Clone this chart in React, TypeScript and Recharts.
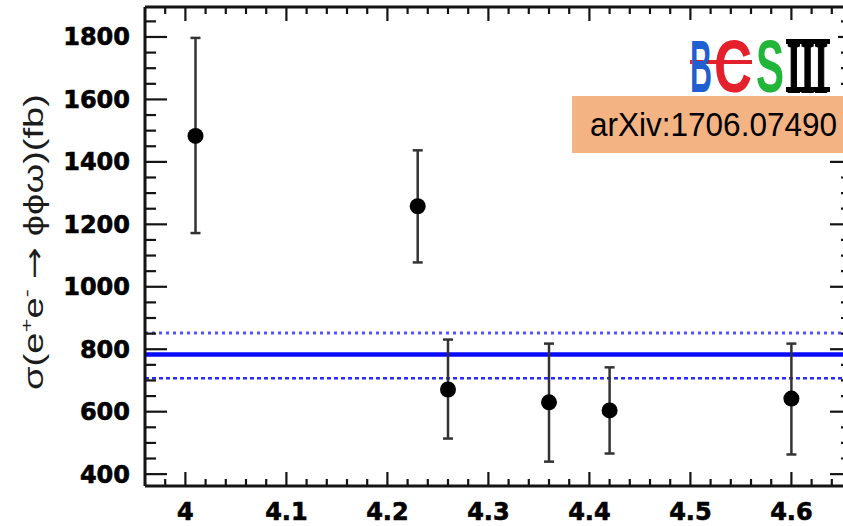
import { ComposedChart, Scatter, ErrorBar, XAxis, YAxis, ReferenceLine } from "recharts";

// centre-of-mass energies (GeV) and measured cross sections (fb)
const energy = [4.01, 4.23, 4.26, 4.36, 4.42, 4.6];
const sigma = [1483, 1258, 671, 630, 604, 642];
const sigmaUp = [314, 179, 160, 188, 138, 176];
const sigmaDown = [311, 180, 157, 190, 138, 179];

// constant fit and its band
const fitValue = 783;
const fitUpper = 852;
const fitLower = 707;

const xMajorLabels = ["4", "4.1", "4.2", "4.3", "4.4", "4.5", "4.6"];
const yMajorLabels = ["400", "600", "800", "1000", "1200", "1400", "1600", "1800"];

const X_DOMAIN: [number, number] = [3.96, 4.66];
const Y_DOMAIN: [number, number] = [362, 1896];

const CHART_W = 872;
const CHART_H = 526;
const LEFT = 145;
const TOP = 7;
const RIGHT = 852;
const BOTTOM = 486;

const xTicks = Array.from({ length: 34 }, (_, i) => +(3.98 + i * 0.02).toFixed(2));
const yTicks = Array.from({ length: 30 }, (_, i) => 400 + i * 50);

const points = energy.map((e, i) => ({
  x: e,
  y: sigma[i],
  err: [sigmaDown[i], sigmaUp[i]],
}));

const isXMajor = (v: number) => Math.abs(v * 10 - Math.round(v * 10)) < 1e-6;
const isYMajor = (v: number) => v % 200 === 0;

const TICK_FONT = "'DejaVu Sans', sans-serif";
const INK = "#141414";
const frame = { stroke: INK, strokeWidth: 3 };

function BottomTick(props: any) {
  const { x, payload } = props;
  const v = payload.value as number;
  const major = isXMajor(v);
  const label = xMajorLabels.find((l) => Math.abs(parseFloat(l) - v) < 1e-6);
  return (
    <g>
      <line x1={x} x2={x} y1={BOTTOM} y2={BOTTOM - (major ? 14 : 7)} stroke={INK} strokeWidth={2.2} />
      {major && label && (
        <text x={x} y={520} textAnchor="middle" fontFamily={TICK_FONT} fontWeight="bold" fontSize={24}
          fill="#000" stroke="#000" strokeWidth={0.6}>
          {label}
        </text>
      )}
    </g>
  );
}

function TopTick(props: any) {
  const { x, payload } = props;
  const major = isXMajor(payload.value);
  return <line x1={x} x2={x} y1={TOP} y2={TOP + (major ? 14 : 7)} stroke={INK} strokeWidth={2.2} />;
}

function LeftTick(props: any) {
  const { y, payload } = props;
  const v = payload.value as number;
  const major = isYMajor(v);
  const label = yMajorLabels.find((l) => +l === v);
  return (
    <g>
      <line x1={LEFT} x2={LEFT + (major ? 22 : 11)} y1={y} y2={y} stroke={INK} strokeWidth={2.2} />
      {major && label && (
        <text x={130} y={y + 8.5} textAnchor="end" fontFamily={TICK_FONT} fontWeight="bold" fontSize={24}
          fill="#000" stroke="#000" strokeWidth={0.6}>
          {label}
        </text>
      )}
    </g>
  );
}

function RightTick(props: any) {
  const { y, payload } = props;
  const major = isYMajor(payload.value);
  return <line x1={RIGHT} x2={RIGHT - (major ? 22 : 11)} y1={y} y2={y} stroke={INK} strokeWidth={2.2} />;
}

function Dot(props: any) {
  return <circle cx={props.cx} cy={props.cy} r={8} fill="#000" />;
}

function Badge() {
  const logoFont = "'Liberation Sans', sans-serif";
  return (
    <svg width={843} height={526} style={{ position: "absolute", left: 0, top: 0, pointerEvents: "none" }}>
      <rect x={681} y={20} width={157} height={81} fill="#fff" />
      <rect x={690} y={60} width={62} height={4} fill="#e4202c" />
      <text y={92} fontFamily={logoFont} fontWeight="bold" fontSize={74}>
        <tspan x={690} fill="#1f5fcf" textLength={22} lengthAdjust="spacingAndGlyphs">B</tspan>
        <tspan x={714} fill="#e4202c" textLength={38} lengthAdjust="spacingAndGlyphs">C</tspan>
        <tspan x={756} fill="#21b639" textLength={28} lengthAdjust="spacingAndGlyphs">S</tspan>
      </text>
      <text x={787} y={92} fontFamily="'Liberation Serif', serif" fontWeight="bold" fontSize={74} fill="#000"
        stroke="#000" strokeWidth={2} textLength={41} lengthAdjust="spacingAndGlyphs">III</text>
      <rect x={786} y={39} width={44} height={5} fill="#000" />
      <rect x={786} y={87} width={44} height={5} fill="#000" />
      <rect x={572} y={96} width={280} height={57} fill="#f3b383" />
      <text x={590} y={136} fontFamily={logoFont} fontSize={34} fill="#000" textLength={247} lengthAdjust="spacingAndGlyphs">arXiv:1706.07490</text>
    </svg>
  );
}

export default function App() {
  return (
    <div style={{ position: "relative", width: 843, height: 526, overflow: "hidden", background: "#fff" }}>
      <style>{"body{margin:0}"}</style>
      <ComposedChart
        width={CHART_W}
        height={CHART_H}
        margin={{ top: TOP - 1, right: CHART_W - RIGHT - 1, bottom: CHART_H - BOTTOM - 1, left: LEFT - 1 }}
      >
        <XAxis xAxisId="b" type="number" dataKey="x" domain={X_DOMAIN} ticks={xTicks} interval={0}
          allowDataOverflow height={1} axisLine={frame} tickLine={false} tick={<BottomTick />} />
        <XAxis xAxisId="t" orientation="top" type="number" dataKey="x" domain={X_DOMAIN} ticks={xTicks} interval={0}
          allowDataOverflow height={1} axisLine={frame} tickLine={false} tick={<TopTick />} />
        <YAxis yAxisId="l" type="number" domain={Y_DOMAIN} ticks={yTicks} interval={0}
          allowDataOverflow width={1} axisLine={frame} tickLine={false} tick={<LeftTick />} />
        <YAxis yAxisId="r" orientation="right" type="number" domain={Y_DOMAIN} ticks={yTicks} interval={0}
          allowDataOverflow width={1} axisLine={frame} tickLine={false} tick={<RightTick />} />

        <ReferenceLine xAxisId="b" yAxisId="l" y={fitUpper} stroke="#5252ff" strokeWidth={3} strokeDasharray="3 4" />
        <ReferenceLine xAxisId="b" yAxisId="l" y={fitLower} stroke="#2b2bff" strokeWidth={2.5} strokeDasharray="4 3" />
        <ReferenceLine xAxisId="b" yAxisId="l" y={fitValue} stroke="#0a0aff" strokeWidth={4.5} />

        <Scatter xAxisId="b" yAxisId="l" data={points} dataKey="y" shape={<Dot />} isAnimationActive={false}>
          <ErrorBar dataKey="err" direction="y" width={5} stroke="#333" strokeWidth={2.5} isAnimationActive={false} />
        </Scatter>
      </ComposedChart>

      <svg width={80} height={526} style={{ position: "absolute", left: 0, top: 0, pointerEvents: "none" }}>
        <text
          transform="translate(43 242) rotate(-90)"
          textAnchor="middle"
          fontFamily="'Liberation Sans', sans-serif"
          fontSize={27}
          fill="#1c1c1c"
          textLength={296}
          lengthAdjust="spacingAndGlyphs"
        >
          σ(e<tspan dy={-11} fontSize={17}>+</tspan><tspan dy={11}>e</tspan><tspan dy={-11} fontSize={17}>-</tspan><tspan dy={11}> </tspan><tspan fontFamily="'DejaVu Sans', sans-serif">→</tspan><tspan> ϕϕω)(fb)</tspan>
        </text>
      </svg>
      <Badge />
    </div>
  );
}
